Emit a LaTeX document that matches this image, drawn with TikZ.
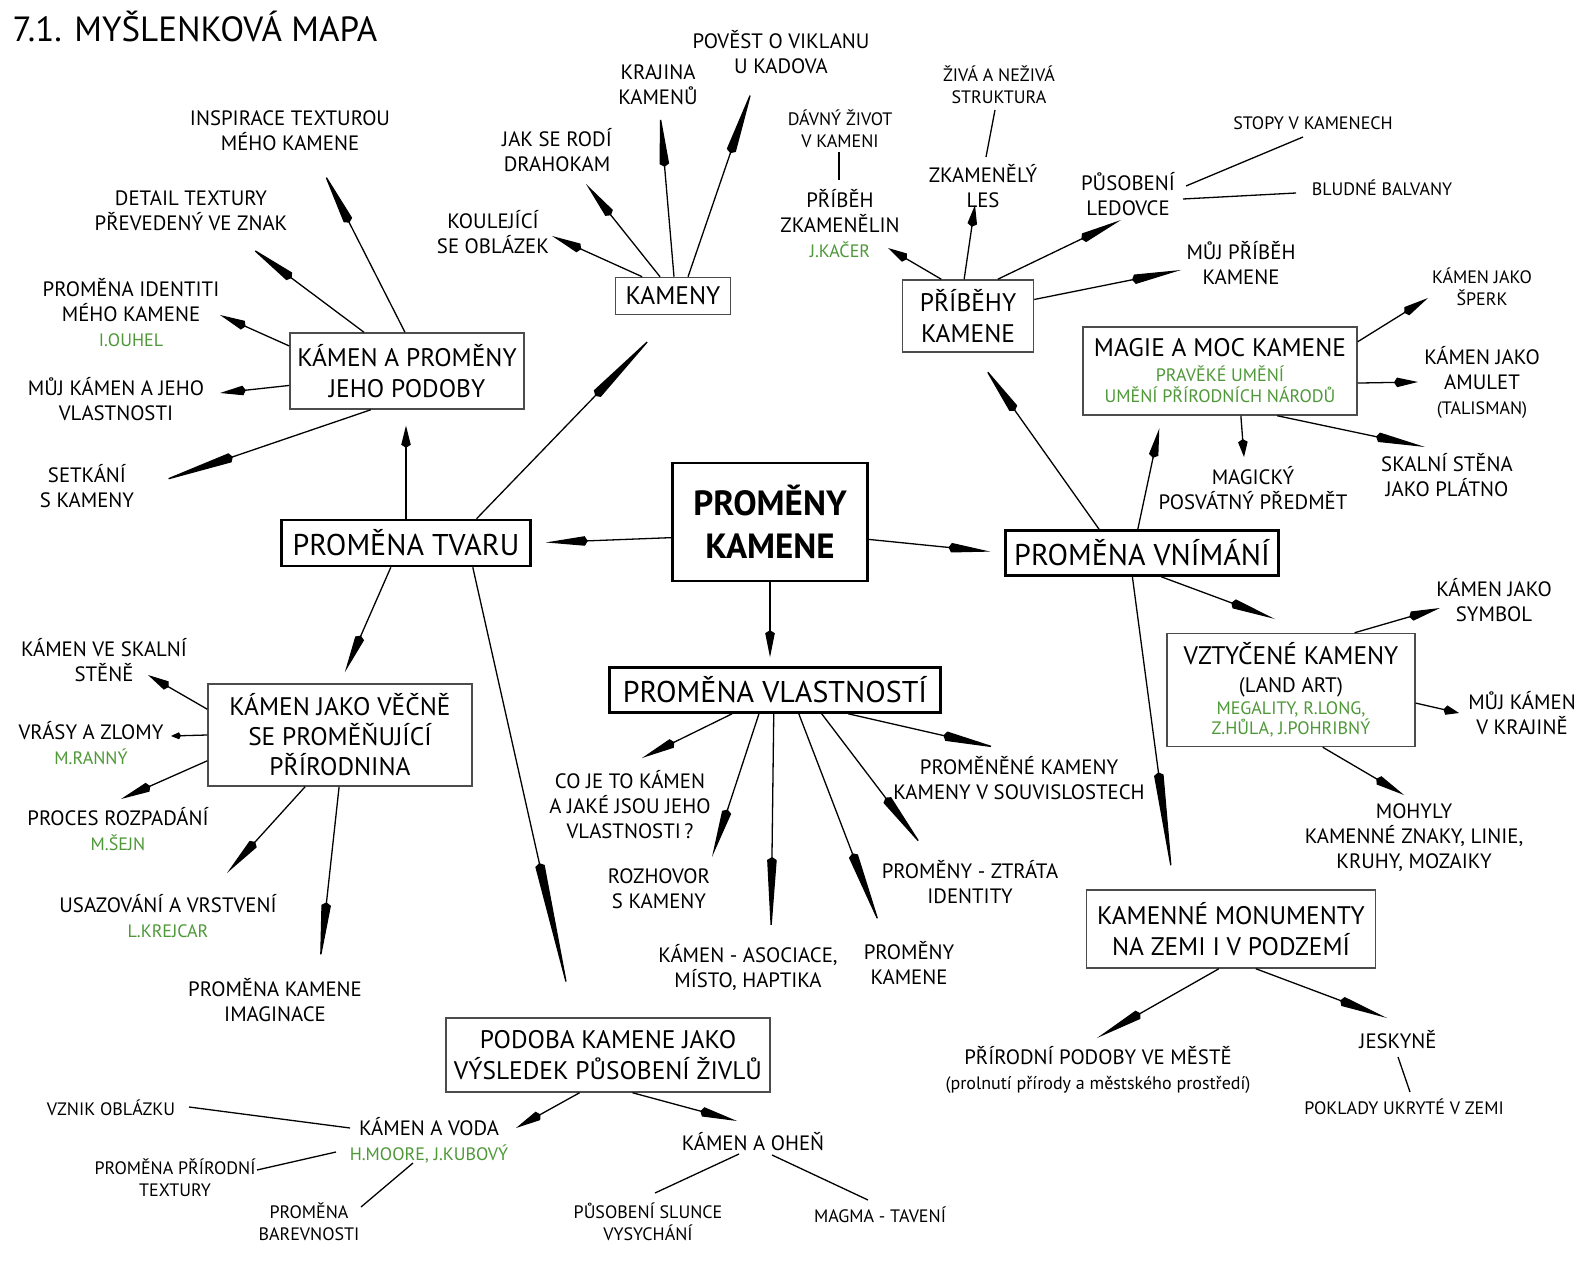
\documentclass[tikz,border=0pt]{standalone}
\usepackage{fontspec}
\setmainfont{PT Sans}
\usetikzlibrary{arrows.meta,calc}
\definecolor{leafgreen}{RGB}{78,152,56}
\newcommand\autor[1]{{\color{leafgreen}\fontsize{9}{10}\selectfont #1}}
\tikzset{
  box/.style={draw=black!70, line width=0.75pt, align=center, inner sep=0pt,
    font=\fontsize{12.7}{15.5}\selectfont},
  mainbox/.style={box, draw=black, line width=1.3pt, font=\fontsize{15}{17}\selectfont},
  leaf/.style={align=center, inner sep=1pt, font=\fontsize{10.4}{12.5}\selectfont},
  leafsm/.style={leaf, font=\fontsize{9}{11}\selectfont},
  arr/.style={-{Kite[length=#1,width=4.8pt,inset=1.5pt]}},
  arr/.default=14pt
}
\begin{document}
\lineskiplimit=-20pt
\begin{tikzpicture}[x=0.5pt, y=-0.5pt, line width=0.65pt]
\fill[white] (0,0) rectangle (1579,1261);
\useasboundingbox (0,0) rectangle (1579,1261);

% title
\node[anchor=west, inner sep=0pt, font=\fontsize{17.5}{19}\selectfont] (title) at (12,26) {7.1. MYŠLENKOVÁ MAPA};

% centre and main branches
\node[mainbox, font=\fontsize{17.5}{21.5}\selectfont\bfseries, minimum width=97.5pt, minimum height=59pt] (cen) at (770,522) {PROMĚNY\\KAMENE};
\node[mainbox, minimum width=124.5pt, minimum height=23pt] (tvar) at (406,543) {PROMĚNA TVARU};
\node[mainbox, minimum width=165.5pt, minimum height=22.5pt] (vlast) at (775,690) {PROMĚNA VLASTNOSTÍ};
\node[mainbox, minimum width=136.5pt, minimum height=22.5pt] (vnim) at (1142,553) {PROMĚNA VNÍMÁNÍ};

% second level boxes
\node[box, minimum width=117pt, minimum height=38pt] (podoby) at (407,371) {KÁMEN A PROMĚNY\\JEHO PODOBY};
\node[box, minimum width=57.5pt, minimum height=18.5pt] (kameny) at (673,296) {KAMENY};
\node[box, minimum width=65.5pt, minimum height=36pt] (pribehy) at (968,316) {PŘÍBĚHY\\KAMENE};
\node[box, font=\fontsize{12.7}{12.5}\selectfont, minimum width=137pt, minimum height=44pt] (magie) at (1220,371) {MAGIE A MOC KAMENE\\ \autor{PRAVĚKÉ UMĚNÍ}\\[-2pt] \autor{UMĚNÍ PŘÍRODNÍCH NÁRODŮ}};
\node[box, font=\fontsize{12.7}{14}\selectfont, minimum width=124pt, minimum height=56.5pt] (vztyc) at (1291,690) {VZTYČENÉ KAMENY\\ {\fontsize{10.5}{11}\selectfont (LAND ART)}\\[-3pt] \autor{MEGALITY, R.LONG,}\\[-4pt] \autor{Z.HŮLA, J.POHRIBNÝ}};
\node[box, minimum width=144.5pt, minimum height=39pt] (monum) at (1231,929) {KAMENNÉ MONUMENTY\\NA ZEMI I V PODZEMÍ};
\node[box, font=\fontsize{12.7}{15}\selectfont, minimum width=132pt, minimum height=51pt] (vecne) at (340,735) {KÁMEN JAKO VĚČNĚ\\SE PROMĚŇUJÍCÍ\\PŘÍRODNINA};
\node[box, minimum width=162pt, minimum height=37pt] (zivly) at (608,1055) {PODOBA KAMENE JAKO\\VÝSLEDEK PŮSOBENÍ ŽIVLŮ};

% leaves around KAMEN A PROMENY
\node[leaf] (inspirace) at (290,131) {INSPIRACE TEXTUROU\\MÉHO KAMENE};
\node[leaf] (detail) at (191,211) {DETAIL TEXTURY\\PŘEVEDENÝ VE ZNAK};
\node[leaf] (identiti) at (131,313) {PROMĚNA IDENTITI\\MÉHO KAMENE\\ \autor{I.OUHEL}};
\node[leaf] (muj) at (116,399) {MŮJ KÁMEN A JEHO\\VLASTNOSTI};
\node[leaf] (setkani) at (87,486) {SETKÁNÍ\\S KAMENY};

% leaves around KAMENY
\node[leaf] (koulejici) at (493,232) {KOULEJÍCÍ\\SE OBLÁZEK};
\node[leaf] (drahokam) at (557,150) {JAK SE RODÍ\\DRAHOKAM};
\node[leaf] (krajina) at (658,85) {KRAJINA\\KAMENŮ};
\node[leaf] (povest) at (781,52) {POVĚST O VIKLANU\\U KADOVA};

% leaves around PRIBEHY
\node[leafsm] (davny) at (840,129) {DÁVNÝ ŽIVOT\\V KAMENI};
\node[leaf] (zkamenelin) at (840,224) {PŘÍBĚH\\ZKAMENĚLIN\\ \autor{J.KAČER}};
\node[leafsm] (struktura) at (999,85) {ŽIVÁ A NEŽIVÁ\\STRUKTURA};
\node[leaf] (les) at (983,186) {ZKAMENĚLÝ\\LES};
\node[leaf] (ledovce) at (1128,194) {PŮSOBENÍ\\LEDOVCE};
\node[leafsm] (stopy) at (1313,123) {STOPY V KAMENECH};
\node[leafsm] (bludne) at (1382,188) {BLUDNÉ BALVANY};
\node[leaf] (mujpribeh) at (1241,263) {MŮJ PŘÍBĚH\\KAMENE};

% leaves around MAGIE
\node[leafsm] (sperk) at (1482,287) {KÁMEN JAKO\\ŠPERK};
\node[leaf] (amulet) at (1482,382) {KÁMEN JAKO\\AMULET\\ {\fontsize{9}{10}\selectfont (TALISMAN)}};
\node[leaf] (magicky) at (1253,488) {MAGICKÝ\\POSVÁTNÝ PŘEDMĚT};
\node[leaf] (platno) at (1447,475) {SKALNÍ STĚNA\\JAKO PLÁTNO};

% leaves around VZTYCENE KAMENY
\node[leaf] (symbol) at (1494,600) {KÁMEN JAKO\\SYMBOL};
\node[leaf] (krajine) at (1522,713) {MŮJ KÁMEN\\V KRAJINĚ};
\node[leaf] (mohyly) at (1414,838) {MOHYLY\\KAMENNÉ ZNAKY, LINIE,\\KRUHY, MOZAIKY};

% leaves around MONUMENTY
\node[leaf] (mesto) at (1098,1070) {PŘÍRODNÍ PODOBY VE MĚSTĚ\\ {\fontsize{9}{10}\selectfont (prolnutí přírody a městského prostředí)}};
\node[leaf] (jeskyne) at (1398,1040) {JESKYNĚ};
\node[leafsm] (poklady) at (1404,1107) {POKLADY UKRYTÉ V ZEMI};

% leaves around VECNE SE PROMENUJICI
\node[leaf] (skalni) at (104,660) {KÁMEN VE SKALNÍ\\STĚNĚ};
\node[leaf] (vrasy) at (91,743) {VRÁSY A ZLOMY\\ \autor{M.RANNÝ}};
\node[leaf] (rozpad) at (118,829) {PROCES ROZPADÁNÍ\\ \autor{M.ŠEJN}};
\node[leaf] (usaz) at (168,916) {USAZOVÁNÍ A VRSTVENÍ\\ \autor{L.KREJCAR}};
\node[leaf] (imag) at (275,1000) {PROMĚNA KAMENE\\IMAGINACE};

% leaves around PROMENA VLASTNOSTI
\node[leaf] (coje) at (630,805) {CO JE TO KÁMEN\\A JAKÉ JSOU JEHO\\VLASTNOSTI\,?};
\node[leaf] (rozhovor) at (659,889) {ROZHOVOR\\S KAMENY};
\node[leaf] (asoc) at (748,967) {KÁMEN - ASOCIACE,\\MÍSTO, HAPTIKA};
\node[leaf] (promkam) at (909,963) {PROMĚNY\\KAMENE};
\node[leaf] (ztrata) at (970,882) {PROMĚNY - ZTRÁTA\\IDENTITY};
\node[leaf] (souvis) at (1019,778) {PROMĚNĚNÉ KAMENY\\KAMENY V SOUVISLOSTECH};

% leaves around ZIVLY
\node[leaf] (voda) at (429,1140) {KÁMEN A VODA\\ \autor{H.MOORE, J.KUBOVÝ}};
\node[leaf] (ohen) at (753,1142) {KÁMEN A OHEŇ};
\node[leafsm] (vznik) at (111,1108) {VZNIK OBLÁZKU};
\node[leafsm] (textury) at (175,1178) {PROMĚNA PŘÍRODNÍ\\TEXTURY};
\node[leafsm] (barev) at (309,1222) {PROMĚNA\\BAREVNOSTI};
\node[leafsm] (slunce) at (648,1222) {PŮSOBENÍ SLUNCE\\VYSYCHÁNÍ};
\node[leafsm] (magma) at (880,1215) {MAGMA - TAVENÍ};

% box to box
\draw[arr=21pt, shorten >=7pt] (cen.189) -- (tvar.east);
\draw[arr=21pt, shorten >=7pt] (cen.350) -- (vnim.west);
\draw[arr=13.5pt, shorten >=4.5pt] (cen.south) -- (cen.south |- vlast.north);
\draw[arr=11pt, shorten >=8pt] (tvar.north) -- (tvar.north |- podoby.south);
\draw[arr=43pt, shorten >=13pt] (tvar.19) -- (kameny.south);
\draw[arr=20pt, shorten >=6pt] (tvar.238) -- (vecne.north);
\draw[arr=70pt, shorten >=9pt] (tvar.340) -- (zivly.132);
\draw[arr=27pt, shorten >=8.5pt] (vnim.151) -- ([xshift=3pt]pribehy.south);
\draw[arr=15pt, shorten >=6.5pt] (vnim.100) -- ([xshift=-29pt]magie.south);
\draw[arr=23pt, shorten >=20pt] (vnim.309) -- ([xshift=10.5pt]vztyc.north);
\draw[arr=54pt, shorten >=5pt] (vnim.248) -- ([xshift=-28.5pt]monum.north);

% box to leaf
\draw[arr=29pt] (podoby.93) -- ($(inspirace)+(33,40)$);
\draw[arr=26pt] (podoby.138) -- ($(detail)+(59,36)$);
\draw[arr=14pt] (podoby.168) -- ($(identiti)+(89,2)$);
\draw[arr=13pt] (podoby.187) -- ($(muj)+(104,-6)$);
\draw[arr=39pt] (podoby.227) -- ($(setkani)+(72,-4)$);

\draw[arr=16pt] (kameny.148) -- ($(koulejici)+(59,4)$);
\draw[arr=20pt] (kameny.124) -- ($(drahokam)+(29,34)$);
\draw[arr=27pt] (kameny.87) -- ($(krajina)+(2,28)$);
\draw[arr=35pt] (kameny.52) -- ($(povest)+(-28,35)$);

\draw[arr=11pt] (pribehy.126) -- ($(zkamenelin)+(48,24)$);
\draw[arr=11pt] (pribehy.96) -- ($(les)+(-8,19)$);
\draw[arr=22pt] (pribehy.51) -- ($(ledovce)+(-7,26)$);
\draw[arr=25pt] (pribehy.14) -- ($(mujpribeh)+(-60,7)$);

\draw[arr=14pt] (magie.12) -- ($(sperk)+(-54,11)$);
\draw[arr=12pt] (magie.355) -- ($(amulet)+(-64,0)$);
\draw[arr=9pt] (magie.295) -- ($(magicky)+(-9,-31)$);
\draw[arr=25pt] (magie.322) -- ($(platno)+(-22,-28)$);

\draw[arr=16pt] (vztyc.42) -- ($(symbol)+(-54,8)$);
\draw[arr=8pt] (vztyc.354) -- ($(krajine)+(-63,0)$);
\draw[arr=16pt] (vztyc.299) -- ($(mohyly)+(-10,-43)$);

\draw[arr=25pt] (monum.253) -- ($(mesto)+(-1,-32)$);
\draw[arr=25pt] (monum.302) -- ($(jeskyne)+(-11,-22)$);

\draw[arr=12pt] (vecne.169) -- ($(skalni)+(44,15)$);
\draw[-{Kite[length=5pt,width=3.5pt,inset=1pt]}] (vecne.180) -- ($(vrasy)+(80,-7)$);
\draw[arr=16pt] (vecne.191) -- ($(rozpad)+(3,-30)$);
\draw[arr=21pt] (vecne.236) -- ($(usaz)+(59,-43)$);
\draw[arr=30pt] (vecne.269) -- ($(imag)+(45,-38)$);

\draw[arr=18pt] (vlast.209) -- ($(coje)+(12,-47)$);
\draw[arr=25pt] (vlast.236) -- ($(rozhovor)+(53,-32)$);
\draw[arr=39pt] (vlast.267) -- ($(asoc)+(23,-32)$);
\draw[arr=40pt] (vlast.315) -- ($(promkam)+(-28,-35)$);
\draw[arr=31pt] (vlast.333) -- ($(ztrata)+(-47,-35)$);
\draw[arr=28pt] (vlast.342) -- ($(souvis)+(-21,-30)$);

\draw[arr=14pt] (zivly.233) -- ($(voda)+(87,-12)$);
\draw[arr=19pt] (zivly.303) -- ($(ohen)+(-16,-21)$);

% plain links
\draw ($(davny)+(-1,23)$) -- ($(zkamenelin)+(-1,-44)$);
\draw ($(struktura)+(-4,25)$) -- ($(les)+(3,-29)$);
\draw ($(ledovce)+(58,-8)$) -- ($(stopy)+(-10,14)$);
\draw ($(ledovce)+(55,5)$) -- ($(bludne)+(-86,5)$);
\draw ($(jeskyne)+(0,17)$) -- ($(poklady)+(6,-15)$);
\draw ($(vznik)+(78,-1)$) -- ($(voda)+(-79,-12)$);
\draw ($(textury)+(82,-8)$) -- ($(voda)+(-93,12)$);
\draw ($(barev)+(52,-15)$) -- ($(voda)+(-16,23)$);
\draw ($(slunce)+(7,-29)$) -- ($(ohen)+(-14,12)$);
\draw ($(magma)+(-12,-15)$) -- ($(ohen)+(19,13)$);
\end{tikzpicture}
\end{document}
